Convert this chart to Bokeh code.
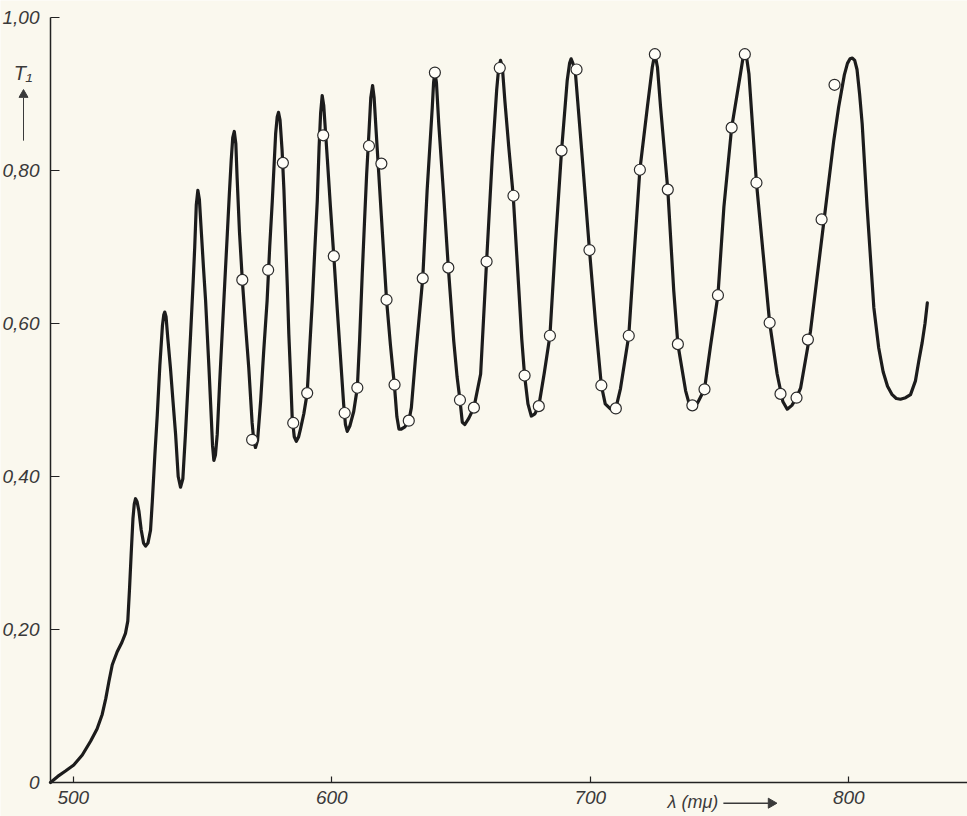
import math
from bokeh.plotting import figure
from bokeh.models import FixedTicker, Range1d, LinearAxis
from bokeh.core.properties import value
from bokeh.embed import file_html
from bokeh.resources import INLINE

# ---- data ----
curve_x = [491.2, 494.0, 497.0, 500.2, 503.5, 506.7, 509.2, 511.2, 512.6, 513.8,
           515.1, 517.0, 518.8, 520.2, 521.1, 521.8, 522.4, 523.1, 523.6, 524.1,
           524.7, 525.4, 526.3, 527.2, 528.0, 528.9, 529.9, 530.6, 531.6, 532.5,
           533.5, 534.5, 535.0, 535.4, 535.9, 536.6, 537.6, 538.6, 539.6, 540.6,
           541.5, 542.4, 543.4, 544.4, 545.4, 546.4, 547.0, 547.6, 548.2, 548.8,
           549.6, 550.4, 551.2, 552.5, 553.4, 553.9, 554.4, 555.0, 555.7, 556.6,
           557.6, 558.6, 559.6, 560.4, 561.1, 561.7, 562.3, 562.9, 563.4, 564.3,
           565.4, 566.6, 567.9, 569.2, 569.9, 570.5, 571.3, 572.5, 573.7, 575.0,
           576.0, 577.0, 578.3, 578.9, 579.4, 580.0, 580.8, 581.5, 582.1, 582.8,
           583.4, 584.1, 584.7, 585.5, 586.3, 587.2, 587.9, 589.2, 590.5, 591.5,
           592.5, 593.5, 594.4, 595.1, 595.7, 596.3, 596.9, 597.6, 598.3, 599.5,
           600.8, 602.1, 603.4, 604.6, 605.3, 606.0, 607.0, 608.5, 609.9, 610.8,
           611.8, 612.7, 613.5, 614.4, 615.1, 615.8, 616.4, 617.2, 619.2, 621.2,
           622.7, 624.3, 625.2, 626.0, 626.9, 628.3, 629.8, 630.8, 632.4, 633.8,
           635.2, 636.9, 638.9, 639.4, 639.9, 640.5, 641.4, 643.3, 645.1, 647.2,
           648.5, 649.6, 650.5, 651.5, 653.0, 655.0, 657.6, 659.9, 662.1, 663.8,
           664.6, 665.3, 666.0, 667.0, 668.5, 670.2, 672.4, 673.5, 674.6, 675.9,
           677.2, 678.6, 680.1, 682.2, 684.4, 686.6, 688.9, 691.1, 692.0, 692.6,
           693.3, 694.3, 696.9, 699.7, 702.1, 704.3, 705.8, 707.9, 709.9, 711.7,
           714.9, 716.9, 719.2, 722.1, 724.0, 725.0, 726.0, 727.2, 730.0, 732.3,
           733.9, 736.9, 738.2, 739.5, 741.5, 744.2, 746.5, 749.4, 751.7, 754.7,
           758.1, 759.0, 759.8, 760.6, 761.4, 764.3, 769.4, 772.3, 774.5, 776.2,
           778.0, 779.8, 781.4, 785.2, 790.4, 794.2, 796.1, 798.3, 799.5, 800.5,
           801.4, 802.3, 803.2, 804.2, 805.2, 807.1, 809.7, 811.6, 813.3, 815.0,
           816.8, 818.4, 820.0, 822.0, 823.9, 825.8, 827.1, 828.4, 829.5, 830.4]
curve_y = [0.000, 0.008, 0.015, 0.023, 0.036, 0.054, 0.070, 0.089, 0.110, 0.132,
           0.154, 0.171, 0.183, 0.195, 0.211, 0.255, 0.298, 0.345, 0.364, 0.371,
           0.367, 0.355, 0.330, 0.313, 0.309, 0.313, 0.330, 0.368, 0.430, 0.480,
           0.545, 0.597, 0.611, 0.615, 0.609, 0.580, 0.542, 0.498, 0.455, 0.400,
           0.386, 0.397, 0.455, 0.520, 0.586, 0.655, 0.700, 0.755, 0.774, 0.762,
           0.717, 0.672, 0.630, 0.542, 0.477, 0.440, 0.421, 0.428, 0.455, 0.520,
           0.586, 0.652, 0.717, 0.770, 0.813, 0.843, 0.851, 0.835, 0.790, 0.720,
           0.657, 0.600, 0.542, 0.470, 0.445, 0.438, 0.447, 0.499, 0.565, 0.630,
           0.700, 0.760, 0.848, 0.870, 0.876, 0.866, 0.826, 0.775, 0.717, 0.650,
           0.586, 0.530, 0.477, 0.452, 0.446, 0.452, 0.462, 0.482, 0.509, 0.570,
           0.630, 0.700, 0.760, 0.830, 0.875, 0.898, 0.885, 0.850, 0.815, 0.752,
           0.688, 0.620, 0.555, 0.495, 0.468, 0.459, 0.466, 0.485, 0.516, 0.580,
           0.665, 0.735, 0.795, 0.850, 0.895, 0.911, 0.895, 0.850, 0.740, 0.631,
           0.572, 0.517, 0.478, 0.462, 0.462, 0.465, 0.472, 0.490, 0.555, 0.607,
           0.659, 0.774, 0.883, 0.915, 0.928, 0.915, 0.861, 0.767, 0.673, 0.577,
           0.530, 0.500, 0.471, 0.468, 0.476, 0.490, 0.534, 0.681, 0.817, 0.905,
           0.935, 0.944, 0.935, 0.890, 0.830, 0.767, 0.643, 0.580, 0.532, 0.495,
           0.479, 0.482, 0.492, 0.535, 0.584, 0.708, 0.826, 0.918, 0.940, 0.946,
           0.940, 0.926, 0.817, 0.696, 0.599, 0.519, 0.495, 0.488, 0.489, 0.515,
           0.584, 0.686, 0.801, 0.883, 0.935, 0.953, 0.935, 0.883, 0.775, 0.643,
           0.573, 0.512, 0.496, 0.492, 0.496, 0.514, 0.570, 0.637, 0.752, 0.856,
           0.926, 0.945, 0.952, 0.945, 0.926, 0.784, 0.601, 0.534, 0.498, 0.488,
           0.493, 0.503, 0.516, 0.590, 0.734, 0.839, 0.883, 0.925, 0.940, 0.946,
           0.947, 0.944, 0.932, 0.900, 0.861, 0.752, 0.621, 0.568, 0.537, 0.518,
           0.507, 0.502, 0.501, 0.503, 0.507, 0.525, 0.551, 0.575, 0.600, 0.627]

obs_x = [565.4, 569.2, 575.4, 581.1, 585.1, 590.5, 596.7, 600.8, 605.0, 609.9,
         614.4, 619.2, 621.2, 624.3, 629.8, 635.2, 639.9, 645.1, 649.6, 655.0,
         659.9, 665.0, 670.3, 674.6, 680.1, 684.4, 688.9, 694.7, 699.7, 704.3,
         709.9, 714.9, 719.2, 725.0, 730.0, 733.9, 739.5, 744.2, 749.4, 754.7,
         759.8, 764.3, 769.4, 773.6, 779.8, 784.2, 789.5, 794.5]
obs_y = [0.657, 0.448, 0.670, 0.810, 0.470, 0.509, 0.846, 0.688, 0.483, 0.516,
         0.832, 0.809, 0.631, 0.520, 0.473, 0.659, 0.928, 0.673, 0.500, 0.490,
         0.681, 0.934, 0.767, 0.532, 0.492, 0.584, 0.826, 0.932, 0.696, 0.519,
         0.489, 0.584, 0.801, 0.952, 0.775, 0.573, 0.493, 0.514, 0.637, 0.856,
         0.952, 0.784, 0.601, 0.508, 0.503, 0.579, 0.736, 0.912]

x_ticks = [500, 600, 700, 800]
y_ticks = [0, 0.2, 0.4, 0.6, 0.8, 1.0]
y_tick_labels = ["0", "0,20", "0,40", "0,60", "0,80", "1,00"]
x_label = "\u03bb (m\u03bc)"
y_label = "T\u2081"

X0, X1 = 491.2, 846.0      # extent of the wavelength axis
Y0, Y1 = 0.0, 1.0          # extent of the transmission axis

BG = "#faf8ee"
INK = "#222222"
TXT = "#3a3a3a"
FONT = "Liberation Sans"

p = figure(width=967, height=816,
           x_range=Range1d(471.86, 845.94), y_range=Range1d(-0.0444, 1.0222),
           output_backend="svg", toolbar_location=None,
           x_axis_type=None, y_axis_type=None,
           min_border_left=0, min_border_right=0, min_border_top=0, min_border_bottom=0)
p.background_fill_color = BG
p.border_fill_color = BG
p.outline_line_color = None
p.grid.visible = False

xax = LinearAxis(fixed_location=Y0, bounds=(X0, X1), ticker=FixedTicker(ticks=x_ticks))
yax = LinearAxis(fixed_location=X0, bounds=(Y0, Y1), ticker=FixedTicker(ticks=y_ticks))
yax.major_label_overrides = dict(zip(y_ticks, y_tick_labels))
for ax in (xax, yax):
    ax.axis_line_color = INK
    ax.axis_line_width = 1.5
    ax.major_tick_line_color = INK
    ax.major_tick_line_width = 1.2
    ax.minor_tick_line_color = None
    ax.major_tick_out = 0
    ax.major_label_text_font = FONT
    ax.major_label_text_font_style = "italic"
    ax.major_label_text_font_size = "19px"
    ax.major_label_text_color = TXT
xax.major_tick_in = 6
xax.major_label_standoff = 8
yax.major_tick_in = 9
yax.major_label_standoff = 11
p.add_layout(xax, "below")
p.add_layout(yax, "left")

p.line(curve_x, curve_y, line_width=3.2, line_color="#1c1c1c", line_join="round", line_cap="round")
p.scatter(obs_x, obs_y, size=11, fill_color="#fffef8", line_color="#2a2a2a", line_width=1.2)

# axis captions with their arrows
p.text(x=[480.6], y=[0.927], text=[y_label], text_font=value(FONT), text_font_style="italic",
       text_font_size="20px", text_color=TXT, text_align="center", text_baseline="middle")
p.segment(x0=[480.76], y0=[0.839], x1=[480.76], y1=[0.895], line_color=TXT, line_width=1)
p.scatter(x=[480.76], y=[0.899], marker="triangle", size=9, fill_color=TXT, line_color=TXT)

p.text(x=[729.9], y=[-0.0248], text=[x_label], text_font=value(FONT), text_font_style="italic",
       text_font_size="18px", text_color=TXT, text_align="left", text_baseline="middle")
p.segment(x0=[751.5], y0=[-0.027], x1=[769.0], y1=[-0.027], line_color=TXT, line_width=1.4)
p.scatter(x=[770.0], y=[-0.027], marker="triangle", size=10, angle=-math.pi / 2,
          fill_color=TXT, line_color=TXT)

open("out.html", "w").write(file_html(p, INLINE))
